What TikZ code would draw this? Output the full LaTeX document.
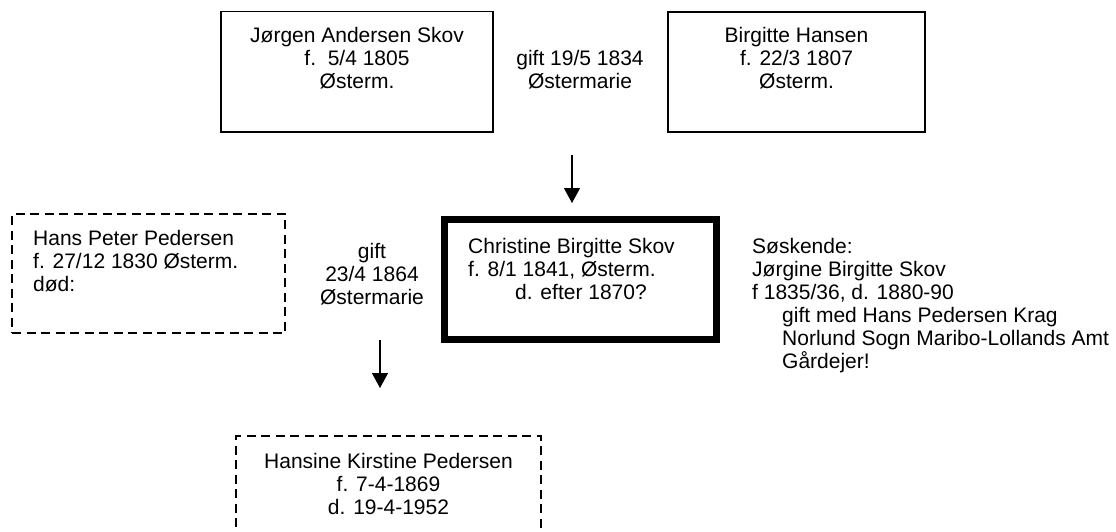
\documentclass[tikz,border=0pt]{standalone}
\usepackage{fontspec}
\setmainfont{Liberation Sans}
\usetikzlibrary{arrows.meta}
\begin{document}
\begin{tikzpicture}[x=1pt,y=-1pt,
  font=\fontsize{21}{23}\selectfont,
  box/.style={draw, line width=1.3pt, inner sep=0pt},
  dbox/.style={draw, line width=1.5pt, dash pattern=on 9pt off 5.5pt, inner sep=0pt},
  heavybox/.style={draw, line width=7.3pt, inner sep=0pt},
  txt/.style={inner sep=0pt, align=center, anchor=north},
  ltxt/.style={inner sep=0pt, align=left, anchor=north west},
  arr/.style={line width=1.3pt, -{Triangle[length=15pt,width=16pt]}}]
\clip (0,0) rectangle (1116,531);
\fill[white] (0,0) rectangle (1116,531);
% parents
\node[box, minimum width=272pt, minimum height=120.5pt] (jorgen) at (357,71.75) {};
\node[txt] (jorgent) at (357,25.9) {\strut Jørgen Andersen Skov\\f.\ \ 5/4 1805\\Østerm.};
\node[box, minimum width=257pt, minimum height=120pt] (birgitte) at (796.5,72) {};
\node[txt] (birgittet) at (796.5,25.9) {\strut Birgitte Hansen\\f. 22/3 1807\\Østerm.};
\node[txt] (gift1) at (580,48.9) {\strut gift 19/5 1834\\Østermarie};
\coordinate (a1s) at (572,155);
\coordinate (a1e) at (572,203);
\draw[arr] (a1s) -- (a1e);
% Christine
\node[heavybox, minimum width=271.6pt, minimum height=119.6pt] (christine) at (580.5,279.5) {};
\node[ltxt] (christinet) at (468,236.9) {\strut Christine Birgitte Skov\\f. 8/1 1841, Østerm.\\\hspace*{47pt}d. efter 1870?};
\node[ltxt] (soskende) at (752,236.9) {\strut Søskende:\\Jørgine Birgitte Skov\\f 1835/36, d. 1880-90\\\hspace*{30pt}gift med Hans Pedersen Krag\\\hspace*{30pt}Norlund Sogn Maribo-Lollands Amt\\\hspace*{30pt}Gårdejer!};
% Hans Peter
\node[dbox, minimum width=273pt, minimum height=119pt] (hans) at (148.5,273.5) {};
\node[ltxt] (hanst) at (33,228.9) {\strut Hans Peter Pedersen\\f. 27/12 1830 Østerm.\\død:};
\node[txt] (gift2) at (372,241.9) {\strut gift\\23/4 1864\\Østermarie};
\coordinate (a2s) at (380,340);
\coordinate (a2e) at (380,388);
\draw[arr] (a2s) -- (a2e);
% Hansine
\node[dbox, minimum width=305pt, minimum height=120pt] (hansine) at (388.5,496) {};
\node[txt] (hansinet) at (388.5,451.9) {\strut Hansine Kirstine Pedersen\\f. 7-4-1869\\d. 19-4-1952};
\end{tikzpicture}
\end{document}
